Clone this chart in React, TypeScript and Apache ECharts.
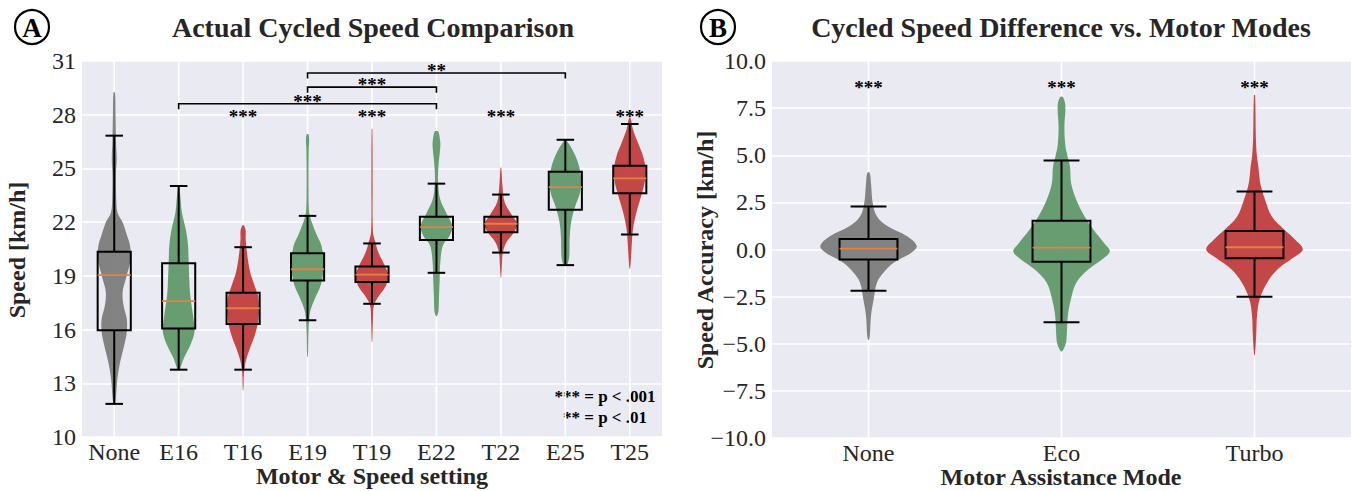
import React, { useEffect, useRef } from "react";
import * as echarts from "echarts";

// ---------- Panel A data ----------
const speedCategories = ["None", "E16", "T16", "E19", "T19", "E22", "T22", "E25", "T25"];
const speedColorKeys = ["gray", "green", "red", "green", "red", "green", "red", "green", "red"];
// [lowerWhisker, q1, median, q3, upperWhisker]
const speedBoxes = [
  [11.85, 15.96, 19.04, 20.35, 26.83],
  [13.76, 16.06, 17.59, 19.7, 24.02],
  [13.76, 16.31, 17.19, 18.06, 20.6],
  [16.52, 18.74, 19.37, 20.26, 22.35],
  [17.44, 18.65, 19.07, 19.52, 20.81],
  [19.17, 21.0, 21.72, 22.3, 24.15],
  [20.3, 21.43, 21.91, 22.3, 23.54],
  [19.6, 22.69, 23.96, 24.81, 26.6],
  [21.31, 23.61, 24.44, 25.15, 27.48],
];
// violin profiles: [value, half width as fraction of category width]
const violinNone = [[29.24,0.012],[28.0,0.02],[26.5,0.028],[25.5,0.038],[24.8,0.028],[23.5,0.03],[22.54,0.05],[22.0,0.13],[21.24,0.2],[20.7,0.245],[19.94,0.255],[18.83,0.18],[18.09,0.13],[17.35,0.145],[16.6,0.195],[15.87,0.195],[15.13,0.155],[14.2,0.093],[13.28,0.05],[12.17,0.025],[11.8,0.008]];
const violinE16 = [[24.0,0.008],[23.3,0.03],[22.54,0.05],[21.6,0.11],[20.7,0.145],[19.76,0.155],[18.8,0.165],[17.9,0.18],[16.6,0.23],[15.87,0.245],[15.13,0.18],[14.4,0.08],[13.83,0.025],[13.7,0.005]];
const violinT16 = [[21.8,0.015],[21.5,0.04],[21.06,0.04],[20.3,0.06],[19.2,0.11],[18.44,0.18],[17.9,0.23],[17.15,0.245],[16.4,0.23],[15.67,0.18],[14.9,0.1],[14.2,0.04],[13.63,0.015],[12.6,0.004]];
const violinE19 = [[26.9,0.015],[26.5,0.025],[26.24,0.02],[25.1,0.015],[23.8,0.015],[22.8,0.02],[22.35,0.035],[21.4,0.13],[20.7,0.215],[19.94,0.245],[19.2,0.245],[18.44,0.2],[17.7,0.11],[16.98,0.04],[15.87,0.015],[14.5,0.006]];
const violinT19 = [[27.2,0.006],[24.0,0.01],[21.44,0.015],[20.9,0.05],[20.3,0.1],[19.56,0.2],[19.0,0.255],[18.44,0.215],[17.9,0.11],[17.35,0.03],[16.6,0.015],[15.3,0.004]];
const violinE22 = [[27.07,0.025],[26.6,0.055],[26.24,0.06],[25.1,0.03],[24.2,0.025],[23.25,0.06],[22.5,0.155],[21.8,0.245],[21.24,0.205],[20.7,0.1],[19.76,0.06],[18.8,0.05],[17.9,0.04],[16.98,0.03],[16.76,0.008]];
const violinT22 = [[25.04,0.006],[24.0,0.025],[23.1,0.06],[22.35,0.18],[21.9,0.255],[21.44,0.205],[20.9,0.09],[20.3,0.03],[19.56,0.015],[18.9,0.004]];
const violinE25 = [[26.55,0.02],[25.9,0.13],[25.1,0.215],[24.4,0.245],[23.67,0.23],[22.9,0.155],[22.0,0.09],[21.07,0.067],[20.15,0.062],[19.7,0.04],[19.6,0.01]];
const violinT25 = [[27.8,0.012],[27.17,0.05],[26.4,0.13],[25.7,0.205],[24.96,0.245],[24.2,0.23],[23.5,0.18],[22.5,0.1],[21.6,0.05],[20.7,0.03],[19.8,0.015],[19.4,0.004]];
const speedViolins = [violinNone, violinE16, violinT16, violinE19, violinT19, violinE22, violinT22, violinE25, violinT25];
// significance brackets: [fromIndex, toIndex, lineValue]
const speedBrackets = [[1, 5, 28.61], [3, 5, 29.54], [3, 7, 30.33]];
const speedBracketLabels = ["***", "***", "**"];
const speedStarIdx = [2, 4, 6, 8];
const speedStarLevel = 28.15;
const speedYMin = 10, speedYMax = 31, speedYStep = 3;

// ---------- Panel B data ----------
const modeCategories = ["None", "Eco", "Turbo"];
const modeColorKeys = ["gray", "green", "red"];
const modeBoxes = [
  [-2.19, -0.53, 0.05, 0.56, 2.28],
  [-3.86, -0.65, 0.1, 1.53, 4.72],
  [-2.51, -0.46, 0.12, 0.98, 3.08],
];
const modeViolinNone = [[4.07,0.006],[3.5,0.013],[2.46,0.022],[1.75,0.044],[1.23,0.1],[0.7,0.2],[0.18,0.25],[-0.18,0.22],[-0.7,0.13],[-1.23,0.077],[-1.75,0.044],[-2.63,0.027],[-3.5,0.013],[-4.56,0.007],[-4.8,0.002]];
const modeViolinEco = [[8.08,0.008],[7.6,0.02],[6.5,0.015],[5.5,0.02],[5.0,0.03],[4.39,0.044],[3.5,0.05],[2.63,0.077],[1.75,0.12],[1.05,0.166],[0.35,0.22],[-0.09,0.25],[-0.53,0.21],[-1.05,0.14],[-1.75,0.077],[-2.63,0.049],[-3.5,0.033],[-4.56,0.027],[-5.0,0.022],[-5.4,0.004]];
const modeViolinTurbo = [[8.2,0.003],[6.0,0.007],[5.0,0.012],[4.39,0.02],[3.5,0.03],[2.63,0.055],[1.75,0.09],[1.05,0.155],[0.53,0.21],[0.0,0.25],[-0.44,0.2],[-1.05,0.12],[-1.75,0.066],[-2.63,0.027],[-3.5,0.013],[-4.5,0.009],[-5.6,0.002]];
const modeViolins = [modeViolinNone, modeViolinEco, modeViolinTurbo];
const modeStarLevel = 8.83;
const modeYMin = -10, modeYMax = 10, modeYStep = 2.5;

const COLORS: Record<string, string> = { gray: "#787878", green: "#5b9666", red: "#c0383a" };
const MEDIAN = "#e4813f";
const FONT = '"Liberation Serif", "Times New Roman", serif';
const TXT = "#262626";

function violinRenderer(boxes: number[][], violins: number[][][], colorKeys: string[], boxHW: number, capHW: number) {
  return (params: any, api: any) => {
    const i = params.dataIndex;
    const cs = params.coordSys;
    const bw = api.size([1, 0])[0];
    const b = boxes[i];
    const cx = api.coord([i, b[2]])[0];
    const Y = (v: number) => api.coord([i, v])[1];
    const prof = violins[i];
    const right = prof.map(([v, hw]) => [cx + hw * bw, Y(v)]);
    const left = prof.slice().reverse().map(([v, hw]) => [cx - hw * bw, Y(v)]);
    const stroke = { stroke: "#000", lineWidth: 2 };
    return {
      type: "group",
      children: [
        { type: "line", shape: { x1: cx, y1: cs.y, x2: cx, y2: cs.y + cs.height }, style: { stroke: "#ffffff", lineWidth: 1.6 } },
        { type: "polygon", shape: { points: right.concat(left), smooth: 0.35 }, style: { fill: COLORS[colorKeys[i]], opacity: 0.92 } },
        { type: "line", shape: { x1: cx, y1: Y(b[0]), x2: cx, y2: Y(b[1]) }, style: stroke },
        { type: "line", shape: { x1: cx, y1: Y(b[3]), x2: cx, y2: Y(b[4]) }, style: stroke },
        { type: "line", shape: { x1: cx - capHW * bw, y1: Y(b[0]), x2: cx + capHW * bw, y2: Y(b[0]) }, style: stroke },
        { type: "line", shape: { x1: cx - capHW * bw, y1: Y(b[4]), x2: cx + capHW * bw, y2: Y(b[4]) }, style: stroke },
        { type: "rect", shape: { x: cx - boxHW * bw, y: Y(b[3]), width: 2 * boxHW * bw, height: Y(b[1]) - Y(b[3]) }, style: { fill: "none", stroke: "#000", lineWidth: 2 } },
        { type: "line", shape: { x1: cx - boxHW * bw, y1: Y(b[2]), x2: cx + boxHW * bw, y2: Y(b[2]) }, style: { stroke: MEDIAN, lineWidth: 1.8 } },
      ],
    };
  };
}

function starText(x: number, y: number, text: string, size = 19) {
  return {
    type: "text",
    x,
    y: y + 4,
    style: { text, align: "center", verticalAlign: "middle", fontSize: size, fontWeight: "bold", fontFamily: FONT, fill: "#000" },
  };
}

export default function App() {
  const ref = useRef<HTMLDivElement>(null);
  useEffect(() => {
    document.body.style.margin = "0";
    const chart = echarts.init(ref.current!, null, { renderer: "svg" });
    const axisLabel = { fontSize: 24, fontFamily: FONT, color: TXT };
    const option: any = {
      animation: false,
      backgroundColor: "#ffffff",
      grid: [
        { left: 82, right: 691, top: 61, bottom: 54, backgroundColor: "#eaeaf2", show: true, borderWidth: 0 },
        { left: 772, right: 2, top: 61, bottom: 53, backgroundColor: "#eaeaf2", show: true, borderWidth: 0 },
      ],
      xAxis: [
        { type: "category", gridIndex: 0, data: speedCategories, boundaryGap: true, axisLine: { show: false }, axisTick: { show: false }, splitLine: { show: false }, axisLabel: { ...axisLabel, margin: 3, interval: 0 } },
        { type: "category", gridIndex: 1, data: modeCategories, boundaryGap: true, axisLine: { show: false }, axisTick: { show: false }, splitLine: { show: false }, axisLabel: { ...axisLabel, margin: 3, interval: 0 } },
      ],
      yAxis: [
        { type: "value", gridIndex: 0, min: speedYMin, max: speedYMax, interval: speedYStep, axisLine: { show: false }, axisTick: { show: false }, splitLine: { lineStyle: { color: "#ffffff", width: 1.6 } }, axisLabel: { ...axisLabel, margin: 6, showMinLabel: true, showMaxLabel: true } },
        { type: "value", gridIndex: 1, min: modeYMin, max: modeYMax, interval: modeYStep, axisLine: { show: false }, axisTick: { show: false }, splitLine: { lineStyle: { color: "#ffffff", width: 1.6 } }, axisLabel: { ...axisLabel, margin: 6, showMinLabel: true, showMaxLabel: true, formatter: (v: number) => (v < 0 ? "\u2212" : "") + Math.abs(v).toFixed(1) } },
      ],
      series: [
        {
          type: "custom", xAxisIndex: 0, yAxisIndex: 0, clip: false,
          data: speedBoxes.map((b, i) => [i, ...b]),
          encode: { x: 0, y: [1, 2, 3, 4, 5] },
          renderItem: violinRenderer(speedBoxes, speedViolins, speedColorKeys, 0.257, 0.136),
        },
        {
          type: "custom", xAxisIndex: 0, yAxisIndex: 0, clip: false,
          data: speedBrackets,
          encode: { x: [0, 1], y: 2 },
          renderItem: (params: any, api: any) => {
            const [a, c, v] = speedBrackets[params.dataIndex];
            const p1 = api.coord([a, v]);
            const p2 = api.coord([c, v]);
            const tick = 5.5;
            return {
              type: "group",
              children: [
                { type: "polyline", shape: { points: [[p1[0], p1[1] + tick], [p1[0], p1[1]], [p2[0], p2[1]], [p2[0], p2[1] + tick]] }, style: { stroke: "#000", lineWidth: 1.6, fill: "none" } },
                starText((p1[0] + p2[0]) / 2, p1[1] - 6.5, speedBracketLabels[params.dataIndex]),
              ],
            };
          },
        },
        {
          type: "custom", xAxisIndex: 0, yAxisIndex: 0, clip: false,
          data: speedStarIdx.map((i) => [i, speedStarLevel]),
          renderItem: (params: any, api: any) => {
            const p = api.coord([speedStarIdx[params.dataIndex], speedStarLevel]);
            return starText(p[0], p[1], "***");
          },
        },
        {
          type: "custom", xAxisIndex: 1, yAxisIndex: 1, clip: false,
          data: modeBoxes.map((b, i) => [i, ...b]),
          encode: { x: 0, y: [1, 2, 3, 4, 5] },
          renderItem: violinRenderer(modeBoxes, modeViolins, modeColorKeys, 0.15, 0.093),
        },
        {
          type: "custom", xAxisIndex: 1, yAxisIndex: 1, clip: false,
          data: modeCategories.map((_, i) => [i, modeStarLevel]),
          renderItem: (params: any, api: any) => {
            const p = api.coord([params.dataIndex, modeStarLevel]);
            return starText(p[0], p[1], "***");
          },
        },
      ],
      graphic: [
        { type: "circle", shape: { cx: 32, cy: 27, r: 17 }, style: { fill: "none", stroke: "#000", lineWidth: 2.2 } },
        { type: "text", x: 32, y: 28, style: { text: "A", align: "center", verticalAlign: "middle", fontSize: 27, fontWeight: "bold", fontFamily: FONT, fill: "#000" } },
        { type: "circle", shape: { cx: 718, cy: 27, r: 17 }, style: { fill: "none", stroke: "#000", lineWidth: 2.2 } },
        { type: "text", x: 718, y: 28, style: { text: "B", align: "center", verticalAlign: "middle", fontSize: 27, fontWeight: "bold", fontFamily: FONT, fill: "#000" } },
        { type: "text", x: 373, y: 27, style: { text: "Actual Cycled Speed Comparison", align: "center", verticalAlign: "middle", fontSize: 28, fontWeight: "bold", fontFamily: FONT, fill: TXT } },
        { type: "text", x: 1061, y: 27, style: { text: "Cycled Speed Difference vs. Motor Modes", align: "center", verticalAlign: "middle", fontSize: 28, fontWeight: "bold", fontFamily: FONT, fill: TXT } },
        { type: "text", x: 17, y: 250, rotation: Math.PI / 2, style: { text: "Speed [km/h]", align: "center", verticalAlign: "middle", fontSize: 24, fontWeight: "bold", fontFamily: FONT, fill: TXT } },
        { type: "text", x: 705, y: 250, rotation: Math.PI / 2, style: { text: "Speed Accuracy [km/h]", align: "center", verticalAlign: "middle", fontSize: 24, fontWeight: "bold", fontFamily: FONT, fill: TXT } },
        { type: "text", x: 372, y: 476, style: { text: "Motor & Speed setting", align: "center", verticalAlign: "middle", fontSize: 24, fontWeight: "bold", fontFamily: FONT, fill: TXT } },
        { type: "text", x: 1061, y: 477, style: { text: "Motor Assistance Mode", align: "center", verticalAlign: "middle", fontSize: 24, fontWeight: "bold", fontFamily: FONT, fill: TXT } },
        { type: "text", x: 605, y: 396, style: { text: "*** = p < .001", align: "center", verticalAlign: "middle", fontSize: 17, fontWeight: "bold", fontFamily: FONT, fill: "#000" } },
        { type: "text", x: 605, y: 417, style: { text: "** = p < .01", align: "center", verticalAlign: "middle", fontSize: 17, fontWeight: "bold", fontFamily: FONT, fill: "#000" } },
      ],
    };
    chart.setOption(option);
    return () => chart.dispose();
  }, []);
  return <div ref={ref} style={{ width: 1353, height: 491 }} />;
}
